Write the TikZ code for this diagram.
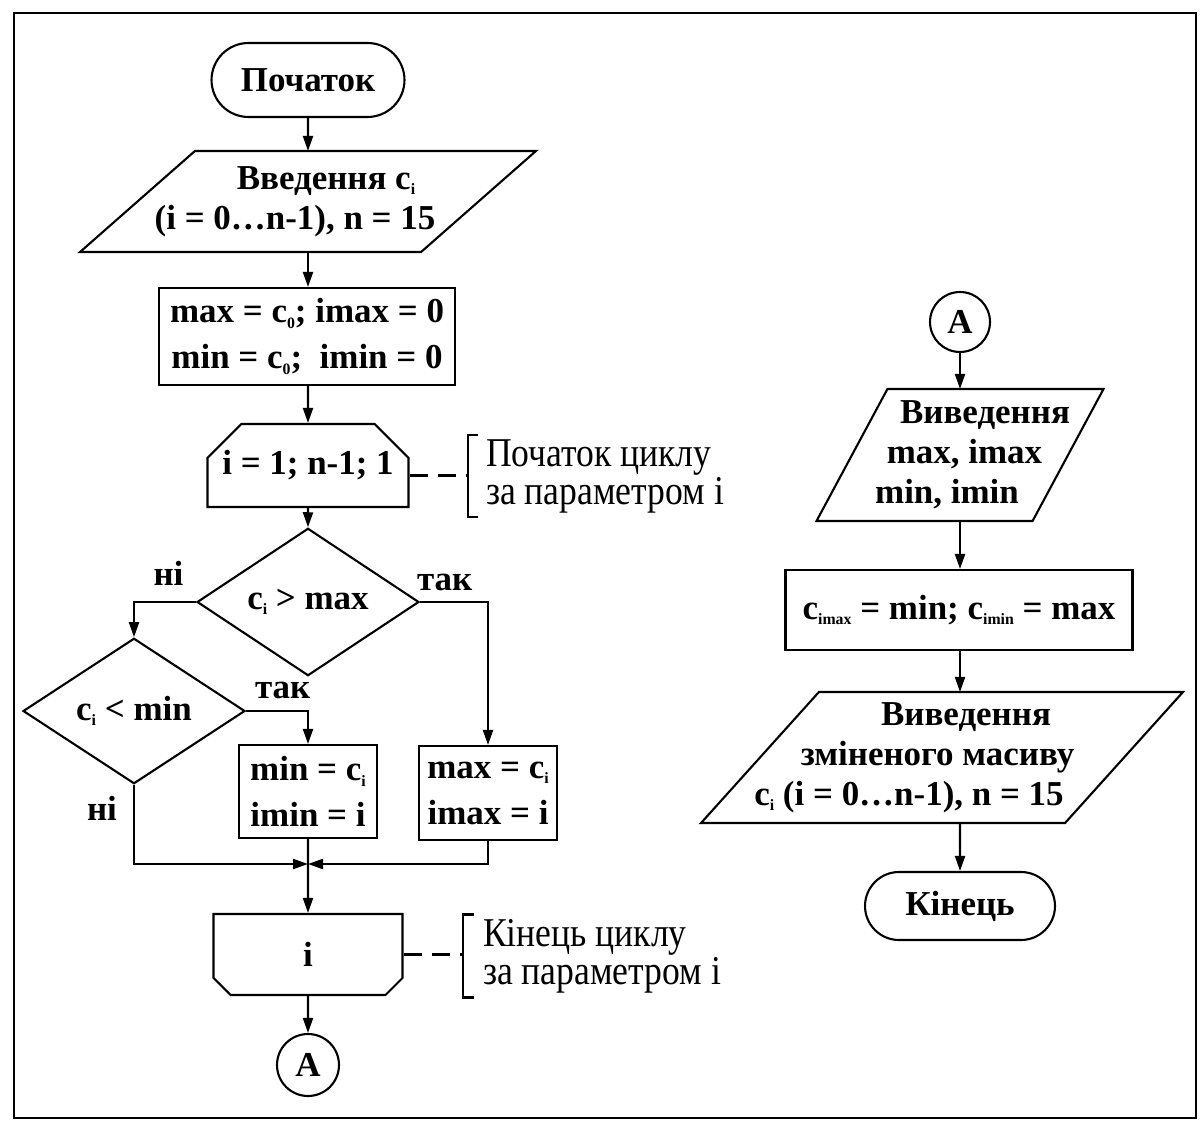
\documentclass[tikz,border=0pt]{standalone}
\usepackage{fontspec}
\setmainfont{Liberation Serif}
\newfontfamily\notefont{Liberation Serif}[FakeStretch=0.87]
\usetikzlibrary{shapes.geometric,shapes.misc,arrows.meta,positioning}

\def\branchwidth{2.75cm}
% small index and a sideways shift of one line of a node
\newcommand\idx[1]{\raisebox{-0.35ex}{\fontsize{9}{9}\selectfont #1}}
\newcommand\nudge[2]{\hspace*{#1}#2\hspace*{-#1}}
% slanted frame round an io node: node name, half of the slant
\newcommand\ioframe[2]{\draw ([xshift=#2]#1.north west) -- ([xshift=#2]#1.north east)
    -- ([xshift=-#2]#1.south east) -- ([xshift=-#2]#1.south west) -- cycle;}

\begin{document}
\begin{tikzpicture}[x=0.02cm,y=-0.02cm,line width=1.2pt,>={Triangle[length=0.3cm,width=0.2cm]},
    font=\bfseries\fontsize{19.9}{22.8}\selectfont]
    \tikzstyle{flow}=[->]
    \tikzstyle{terminal}=[rounded rectangle,draw,minimum width=3.86cm,minimum height=1.48cm,inner sep=0pt]
    \tikzstyle{io}=[rectangle,align=center,inner sep=0pt]
    \tikzstyle{process}=[rectangle,draw,align=center,inner sep=0pt,font=\bfseries\fontsize{19.9}{26.2}\selectfont]
    \tikzstyle{decision}=[diamond,draw,minimum width=4.44cm,minimum height=2.38cm,inner sep=0pt]
    \tikzstyle{loop start}=[chamfered rectangle,draw,chamfered rectangle corners={north west,north east},
        chamfered rectangle xsep=0.3cm,chamfered rectangle ysep=0.38cm,inner sep=0pt]
    \tikzstyle{loop end}=[chamfered rectangle,draw,chamfered rectangle corners={south west,south east},
        chamfered rectangle xsep=0.32cm,chamfered rectangle ysep=0.5cm,inner sep=0pt]
    \tikzstyle{link}=[circle,draw,minimum size=1.24cm,inner sep=0pt]
    \tikzstyle{answer}=[inner sep=0pt]
    \tikzstyle{note}=[anchor=west,align=left,inner xsep=0pt,inner ysep=2pt,
        font=\notefont\mdseries\fontsize{23.3}{21.6}\selectfont]
    \tikzstyle{dashpat}=[dash pattern=on 0.36cm off 0.2cm]

    \useasboundingbox (0,0) rectangle (1203,1131);
    \draw[line width=1.6pt] (14,13) rectangle (1196,1118);

    % Draw the left column: input and loop
    \node[terminal] (start) at (308,80) {Початок};
    \node[io,minimum width=6.78cm,minimum height=1.98cm] (in1) at (308,201.5)
        {\nudge{0.36cm}{Введення c\idx{i}}\\\nudge{-0.26cm}{(i = 0…n-1), n = 15}};
    \ioframe{in1}{1.15cm}
    \node[process,minimum width=5.92cm,minimum height=1.94cm] (init) at (307,336.5)
        {max = c\idx{0}; imax = 0\\min = c\idx{0};\ \ imin = 0};
    \node[loop start,minimum width=4.02cm,minimum height=1.66cm] (loop) at (308,465.5) {i = 1; n-1; 1};

    % Draw the branches
    \node[decision] (d1) at (308,602) {c\idx{i} > max};
    \node[decision,minimum height=2.28cm] (d2) at (134,711) {c\idx{i} < min};
    \node[process,minimum width=\branchwidth,minimum height=1.86cm] (bmin) at (308,791.5)
        {min = c\idx{i}\\imin = i};
    \node[process,minimum width=\branchwidth,minimum height=1.88cm] (bmax) at (488,793)
        {max = c\idx{i}\\imax = i};
    \coordinate (join) at (308,864);
    \node[loop end,minimum width=3.78cm,minimum height=1.62cm] (lend) at (308,954.5) {i};
    \node[link] (A1) at (308,1065) {A};

    % Answers of the conditions
    \node[answer,above left=0.31cm and 0.23cm of d1.west] (no1) {ні};
    \node[answer,above right=0.2cm and -0.08cm of d1.east] (yes1) {так};
    \node[answer,above right=0.22cm and 0.16cm of d2.east] (yes2) {так};
    \node[answer,below left=0.2cm and 0.32cm of d2.south] (no2) {ні};

    % Annotate the loop
    \node[note] (nt1) at (485,476) {Початок циклу\\за параметром і};
    \node[note] (nt2) at (482,956) {Кінець циклу\\за параметром і};
    \coordinate (br1) at ([xshift=-0.34cm]nt1.west);
    \coordinate (br2) at ([xshift=-0.38cm]nt2.west);

    % Draw the right column: output
    \node[link,minimum size=1.2cm] (A2) at (960,322) {A};
    \node[io,minimum width=4.28cm,minimum height=2.6cm] (out1) at (960,455)
        {\nudge{0.5cm}{Виведення}\\\nudge{0.18cm}{max, imax}\\\nudge{-0.26cm}{min, imin}};
    \ioframe{out1}{0.71cm}
    \node[process,minimum width=6.94cm,minimum height=1.6cm] (swap) at (959,610)
        {c\idx{imax} = min; c\idx{imin} = max};
    \node[io,minimum width=7.24cm,minimum height=2.58cm] (out2) at (942,757.5)
        {\nudge{0.48cm}{Виведення}\\\nudge{-0.18cm}{зміненого масиву}\\
        \nudge{-0.66cm}{c\idx{i} (i = 0…n-1), n = 15}};
    \ioframe{out2}{1.18cm}
    \node[terminal,minimum width=3.8cm,minimum height=1.36cm] (end) at (960,906) {Кінець};

    % Connect the blocks
    \draw[flow] (start) -- (in1);
    \draw[flow] (in1) -- (in1 |- init.north);
    \draw[flow] (init.south -| loop) -- (loop);
    \draw[flow] (loop) -- (d1);
    \draw[flow] (d1.west) -| (d2.north);
    \draw[flow] (d1.east) -| (bmax.north);
    \draw[flow] (d2.east) -| (bmin.north);
    \draw[flow] (d2.south) |- (join);
    \draw[flow] (bmax.south) |- (join);
    \draw[flow] (bmin) -- (lend);
    \draw[flow] (lend) -- (A1);
    \draw[flow] (A2) -- (out1);
    \draw[flow] (out1) -- (out1 |- swap.north);
    \draw[flow] (swap.south -| out1) -- (out1 |- out2.north);
    \draw[flow] (end.north |- out2.south) -- (end);

    % Brackets of the notes
    \draw ([xshift=-0.14cm]nt1.north west) -- ++(-0.2cm,0) |- ([xshift=-0.14cm]nt1.south west);
    \draw ([xshift=-0.16cm]nt2.north west) -- ++(-0.22cm,0) |- ([xshift=-0.16cm]nt2.south west);
    \draw[dashpat] ([yshift=-0.2cm]loop.east) -- ([yshift=-0.2cm]loop.east -| br1);
    \draw[dashpat] (lend.east) -- (lend.east -| br2);
\end{tikzpicture}
\end{document}
